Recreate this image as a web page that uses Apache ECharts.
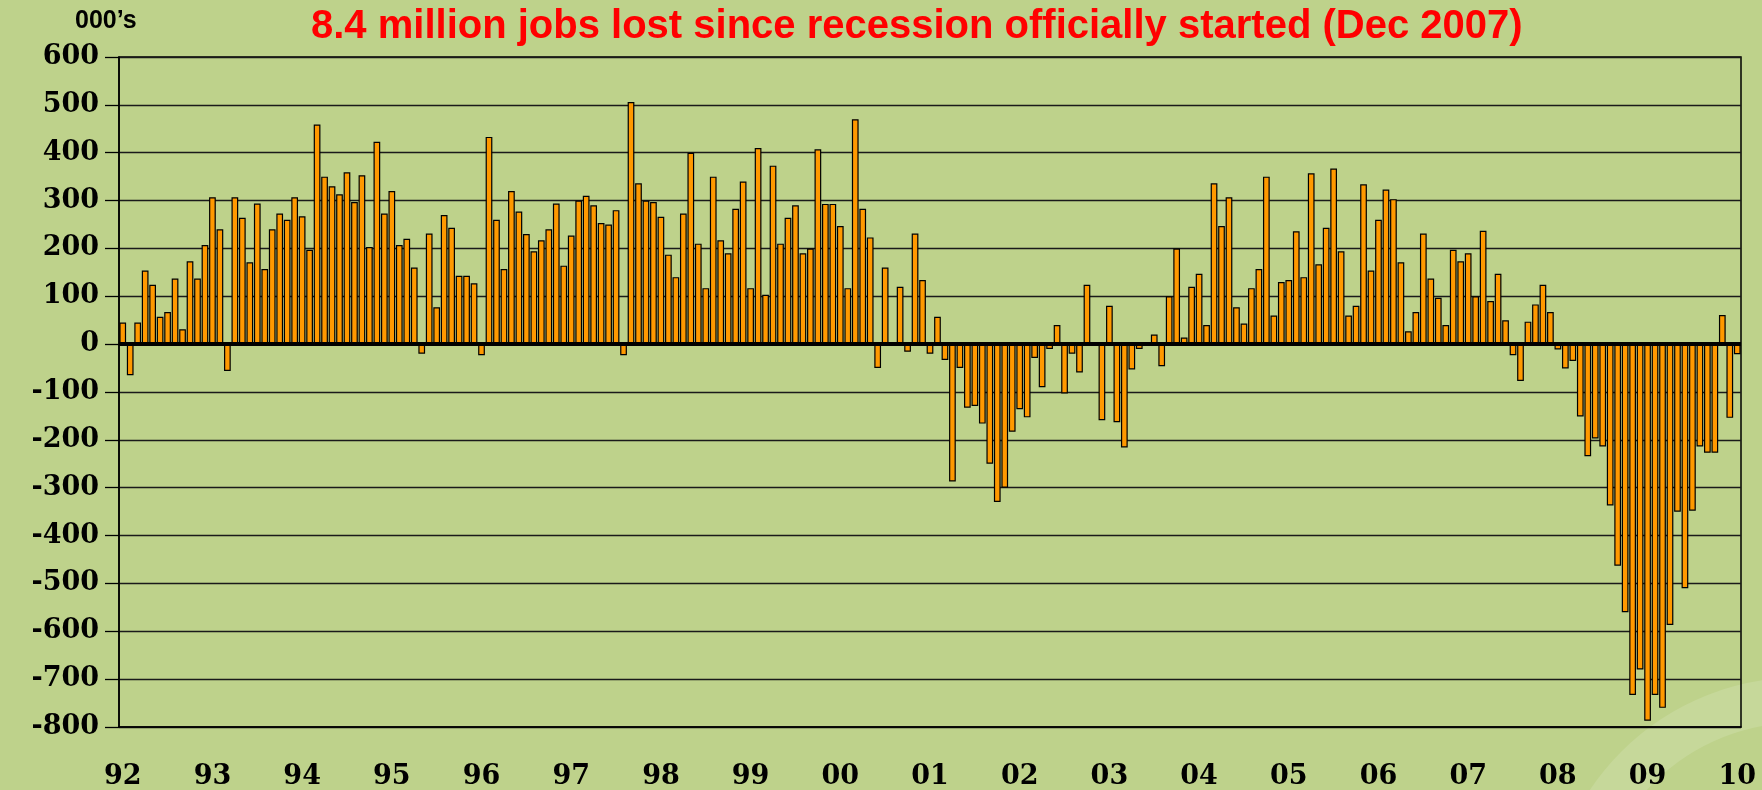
<!DOCTYPE html>
<html>
<head>
<meta charset="utf-8">
<script src="https://cdn.jsdelivr.net/npm/echarts@6/dist/echarts.min.js"></script>
<style>
html, body { margin: 0; padding: 0; background: #bed28b; }
#main { width: 1762px; height: 790px; }
</style>
</head>
<body>
<div id="main"></div>
<script>
// monthly change in payrolls, thousands
var years = ['92', '93', '94', '95', '96', '97', '98', '99', '00', '01', '02', '03', '04', '05', '06', '07', '08', '09', '10'];
var months = ['Jan', 'Feb', 'Mar', 'Apr', 'May', 'Jun', 'Jul', 'Aug', 'Sep', 'Oct', 'Nov', 'Dec'];

var jobs92 = [45, -65, 45, 154, 124, 57, 67, 137, 31, 173, 137, 207];
var jobs93 = [307, 240, -56, 307, 264, 171, 294, 157, 240, 273, 260, 307];
var jobs94 = [267, 197, 459, 350, 330, 313, 359, 297, 353, 203, 423, 273];
var jobs95 = [320, 207, 220, 160, -20, 231, 77, 270, 243, 143, 143, 127];
var jobs96 = [-23, 433, 260, 157, 320, 277, 230, 194, 217, 240, 294, 164];
var jobs97 = [227, 300, 310, 290, 253, 250, 280, -23, 506, 336, 300, 297];
var jobs98 = [266, 187, 140, 273, 400, 210, 117, 350, 217, 190, 283, 340];
var jobs99 = [117, 410, 103, 373, 210, 264, 290, 190, 200, 407, 293, 293];
var jobs00 = [247, 117, 470, 283, 223, -50, 160, 0, 120, -16, 231, 134];
var jobs01 = [-20, 57, -33, -287, -50, -133, -129, -166, -250, -330, -300, -183];
var jobs02 = [-136, -153, -29, -90, -10, 40, -103, -20, -59, 124, 4, -159];
var jobs03 = [80, -163, -216, -53, -10, -3, 20, -46, 100, 200, 14, 120];
var jobs04 = [147, 40, 336, 247, 307, 77, 43, 117, 157, 350, 60, 130];
var jobs05 = [134, 236, 140, 357, 167, 243, 367, 194, 60, 80, 334, 154];
var jobs06 = [260, 323, 303, 171, 27, 67, 231, 137, 97, 40, 197, 173];
var jobs07 = [190, 100, 237, 90, 147, 50, -23, -77, 47, 83, 124, 67];
var jobs08 = [-11, -51, -35, -151, -234, -197, -214, -337, -463, -560, -733, -680];
var jobs09 = [-787, -733, -760, -587, -350, -510, -348, -214, -227, -227, 61, -154];
var jobs10 = [-21];

var byYear = [jobs92, jobs93, jobs94, jobs95, jobs96, jobs97, jobs98, jobs99, jobs00, jobs01,
              jobs02, jobs03, jobs04, jobs05, jobs06, jobs07, jobs08, jobs09, jobs10];

var categories = [];
var values = [];
for (var y = 0; y < years.length; y++) {
    for (var m = 0; m < byYear[y].length; m++) {
        categories.push(months[m] + ' ' + years[y]);
        values.push(byYear[y][m]);
    }
}

var myChart = echarts.init(document.getElementById('main'));

var labelFont = {
    fontFamily: 'DejaVu Serif',
    fontWeight: 'bold',
    fontSize: 27,
    color: '#000'
};

var option = {
    backgroundColor: '#bed28b',
    animation: false,
    title: [{
        text: '8.4 million jobs lost since recession officially started (Dec 2007)',
        left: 306,
        top: 2,
        textStyle: {
            color: '#ff0000',
            fontFamily: 'Liberation Sans',
            fontWeight: 'bold',
            fontSize: 40
        }
    }, {
        text: '000\u2019s',
        left: 70,
        top: 4,
        textStyle: {
            color: '#000',
            fontFamily: 'Liberation Sans',
            fontWeight: 'bold',
            fontSize: 25
        }
    }],
    graphic: [{
        type: 'circle',
        z: -10,
        silent: true,
        shape: { cx: 1800, cy: 930, r: 230 },
        style: { fill: 'none', stroke: '#c6d89a', lineWidth: 45 }
    }],
    grid: {
        left: 119,
        right: 21,
        top: 57,
        bottom: 62,
        show: true,
        borderColor: '#000',
        borderWidth: 1.5
    },
    xAxis: {
        type: 'category',
        data: categories,
        axisLine: { onZero: false, lineStyle: { color: '#000', width: 1.5 } },
        axisTick: { interval: 11, length: 10, lineStyle: { color: '#000', width: 1.5 } },
        axisLabel: Object.assign({
            interval: 11,
            margin: 36,
            formatter: function (value) { return value.slice(4); }
        }, labelFont),
        splitLine: { show: false }
    },
    yAxis: {
        type: 'value',
        min: -800,
        max: 600,
        interval: 100,
        axisLine: { show: true, lineStyle: { color: '#000', width: 1.5 } },
        axisTick: { show: true, length: 14, lineStyle: { color: '#000', width: 1.3 } },
        axisLabel: Object.assign({ margin: 20 }, labelFont),
        splitLine: { lineStyle: { color: '#1a1a1a', width: 1.3 } }
    },
    series: [{
        type: 'bar',
        data: values,
        barCategoryGap: '10%',
        itemStyle: {
            color: '#ff9900',
            borderColor: '#000',
            borderWidth: 1.2
        },
        markLine: {
            silent: true,
            symbol: 'none',
            label: { show: false },
            lineStyle: { color: '#000', width: 4, type: 'solid' },
            data: [{ yAxis: 0 }]
        }
    }]
};
myChart.setOption(option);
</script>
</body>
</html>
